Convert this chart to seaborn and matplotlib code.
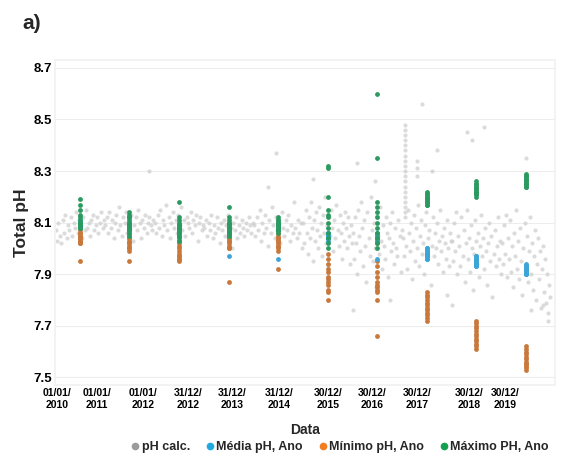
import numpy as np
import pandas as pd
import seaborn as sns
import matplotlib.pyplot as plt
from matplotlib.lines import Line2D

# daily pH calc. readings, per year
years = [2010, 2011, 2012, 2013, 2014, 2015, 2016, 2017, 2018, 2019]
grey_ph = [
    [8.07, 8.03, 8.10, 8.05, 8.02, 8.11, 8.06, 8.13, 8.04, 8.09, 8.07, 8.12, 8.05, 8.10, 8.08, 8.14, 8.06, 8.11,
     8.09, 8.04, 8.12, 8.07, 8.15, 8.08, 8.10, 8.05, 8.11, 8.13, 8.07, 8.09, 8.12, 8.06, 8.10, 8.14, 8.08, 8.11],
    [8.09, 8.12, 8.06, 8.14, 8.08, 8.11, 8.04, 8.10, 8.13, 8.07, 8.16, 8.09, 8.05, 8.12, 8.10, 8.14, 8.06, 8.11,
     8.08, 8.13, 8.03, 8.09, 8.12, 8.07, 8.15, 8.10, 8.04, 8.11, 8.08, 8.13, 8.06, 8.10, 8.12, 8.09, 8.07, 8.11],
    [8.10, 8.06, 8.13, 8.08, 8.15, 8.05, 8.11, 8.09, 8.17, 8.07, 8.12, 8.04, 8.10, 8.14, 8.08, 8.11, 8.06, 8.13,
     8.09, 8.16, 8.07, 8.11, 8.05, 8.12, 8.10, 8.08, 8.14, 8.06, 8.11, 8.09, 8.13, 8.03, 8.10, 8.12, 8.07, 8.09],
    [8.08, 8.11, 8.05, 8.10, 8.07, 8.13, 8.04, 8.09, 8.06, 8.12, 8.08, 8.02, 8.10, 8.07, 8.11, 8.05, 8.09, 8.13,
     8.06, 8.08, 8.00, 8.10, 8.07, 8.12, 8.04, 8.09, 8.06, 8.11, 8.08, 8.05, 8.10, 8.07, 8.12, 8.09, 8.06, 8.10],
    [8.09, 8.05, 8.12, 8.07, 8.15, 8.03, 8.10, 8.06, 8.13, 8.08, 8.01, 8.11, 8.06, 8.16, 8.09, 8.04, 8.12, 8.07,
     8.10, 8.02, 8.14, 8.08, 8.05, 8.11, 8.07, 8.13, 8.03, 8.09, 8.06, 8.18, 8.08, 8.04, 8.11, 8.06, 8.10, 8.00],
    [8.10, 8.02, 8.15, 8.06, 7.98, 8.12, 8.04, 8.18, 8.08, 7.95, 8.11, 8.03, 8.14, 8.07, 8.00, 8.16, 8.05, 8.10,
     7.97, 8.13, 8.06, 8.20, 8.02, 8.09, 7.93, 8.12, 8.05, 8.15, 8.08, 7.99, 8.11, 8.04, 8.17, 8.07, 8.01, 8.13,
     8.06, 7.96, 8.10, 8.03, 8.14, 8.08, 8.00, 8.12, 8.05, 7.94, 8.09, 8.02],
    [8.06, 7.96, 8.12, 8.02, 7.90, 8.15, 8.05, 7.99, 8.18, 8.08, 7.93, 8.11, 8.01, 7.87, 8.14, 8.04, 7.97, 8.20,
     8.07, 7.95, 8.10, 8.00, 7.85, 8.13, 8.05, 7.98, 8.16, 8.03, 7.92, 8.09, 8.01, 7.96, 8.12, 8.06, 7.89, 8.04,
     8.10, 7.99, 8.14, 8.02, 7.94, 8.08, 8.00, 7.97, 8.11, 8.05, 7.91, 8.07],
    [8.04, 7.97, 8.12, 8.01, 7.92, 8.15, 8.06, 7.99, 8.10, 7.88, 8.03, 8.13, 7.95, 8.08, 8.00, 8.17, 7.93, 8.05,
     8.11, 7.98, 8.02, 7.90, 8.09, 8.14, 7.96, 8.04, 8.07, 7.86, 8.01, 8.12, 7.97, 8.06, 8.00, 8.10, 7.94, 8.03,
     8.15, 7.99, 8.05, 7.91, 8.08, 8.02, 7.96, 8.11, 8.00, 7.93, 8.06, 8.03],
    [8.03, 7.95, 8.10, 7.99, 8.14, 7.90, 8.05, 8.01, 7.93, 8.12, 7.97, 8.07, 7.87, 8.02, 8.15, 7.96, 8.04, 7.91,
     8.09, 8.00, 7.84, 7.98, 8.11, 8.03, 7.94, 8.06, 7.89, 8.01, 8.13, 7.97, 8.04, 7.92, 8.08, 7.99, 7.86, 8.02,
     8.10, 7.95, 8.05, 7.81, 7.98, 8.07, 7.93, 8.01, 8.12, 7.96, 8.03, 7.90],
    [8.02, 7.94, 8.09, 7.98, 8.13, 7.89, 8.04, 7.96, 8.11, 7.91, 8.01, 7.85, 8.06, 7.97, 8.15, 7.92, 8.03, 7.88,
     8.08, 7.95, 7.82, 8.00, 8.10, 7.93, 8.05, 7.87, 7.99, 8.12, 7.90, 8.02, 7.84, 7.97, 8.07, 7.80, 7.94, 8.04,
     7.88, 7.99, 7.77, 7.92, 8.01, 7.83, 7.96, 7.79, 7.90, 7.75, 7.86, 7.81],
]
# scattered pH calc. readings outside the main band
extra_x = [2011.90, 2014.45, 2014.30, 2015.20, 2016.10, 2016.45, 2016.00, 2016.75, 2017.40, 2017.60,
           2017.70, 2018.30, 2018.40, 2018.65, 2019.50, 2019.95, 2019.85, 2019.60, 2018.00, 2017.90,
           2017.05, 2017.05, 2017.05, 2017.05, 2017.05, 2017.05, 2017.05, 2017.05, 2017.05, 2017.05,
           2017.05, 2017.05, 2017.05, 2017.05, 2017.05, 2017.05, 2017.05, 2017.05, 2017.30, 2017.30, 2017.30]
extra_y = [8.30, 8.37, 8.24, 8.27, 8.33, 8.26, 7.76, 7.80, 8.56, 8.30,
           8.38, 8.45, 8.42, 8.47, 8.35, 7.72, 7.78, 7.76, 7.78, 7.82,
           8.48, 8.46, 8.44, 8.42, 8.40, 8.38, 8.36, 8.34, 8.32, 8.30,
           8.28, 8.26, 8.24, 8.22, 8.20, 8.18, 8.16, 8.14, 8.34, 8.31, 8.28]

# yearly statistics (one value per month), plotted in one column per year
max_ph = [
    [8.19, 8.17, 8.15, 8.13, 8.12, 8.11, 8.10, 8.10, 8.09, 8.09, 8.08, 8.08],
    [8.14, 8.13, 8.12, 8.12, 8.11, 8.10, 8.09, 8.09, 8.08, 8.07, 8.06, 8.05],
    [8.18, 8.12, 8.11, 8.10, 8.09, 8.09, 8.08, 8.07, 8.06, 8.05, 8.04, 8.03],
    [8.16, 8.12, 8.11, 8.10, 8.10, 8.09, 8.08, 8.08, 8.07, 8.06, 8.06, 8.05],
    [8.12, 8.11, 8.11, 8.10, 8.10, 8.09, 8.09, 8.08, 8.08, 8.07, 8.07, 8.06],
    [8.32, 8.31, 8.20, 8.15, 8.13, 8.12, 8.10, 8.08, 8.06, 8.04, 8.02, 8.00],
    [8.60, 8.35, 8.18, 8.16, 8.14, 8.12, 8.10, 8.08, 8.06, 8.04, 8.02, 8.00],
    [8.22, 8.21, 8.21, 8.20, 8.20, 8.19, 8.19, 8.18, 8.18, 8.18, 8.17, 8.17],
    [8.26, 8.25, 8.25, 8.24, 8.24, 8.23, 8.23, 8.22, 8.22, 8.21, 8.21, 8.20],
    [8.29, 8.28, 8.28, 8.27, 8.27, 8.26, 8.26, 8.25, 8.25, 8.25, 8.24, 8.24],
]
min_ph = [
    [8.07, 8.06, 8.06, 8.05, 8.05, 8.04, 8.04, 8.03, 8.03, 8.02, 8.02, 7.95],
    [8.06, 8.05, 8.04, 8.04, 8.03, 8.02, 8.02, 8.01, 8.00, 8.00, 7.99, 7.95],
    [8.05, 8.03, 8.02, 8.01, 8.00, 7.99, 7.98, 7.97, 7.97, 7.96, 7.96, 7.95],
    [8.06, 8.05, 8.05, 8.04, 8.04, 8.03, 8.03, 8.02, 8.01, 8.00, 8.00, 7.87],
    [8.06, 8.05, 8.04, 8.04, 8.03, 8.03, 8.02, 8.01, 8.01, 8.00, 7.99, 7.92],
    [7.98, 7.96, 7.94, 7.92, 7.91, 7.89, 7.88, 7.87, 7.86, 7.84, 7.83, 7.80],
    [8.02, 7.95, 7.93, 7.91, 7.89, 7.87, 7.86, 7.85, 7.84, 7.83, 7.80, 7.66],
    [7.83, 7.82, 7.81, 7.80, 7.79, 7.78, 7.77, 7.76, 7.75, 7.74, 7.73, 7.72],
    [7.72, 7.71, 7.70, 7.69, 7.68, 7.67, 7.66, 7.65, 7.64, 7.63, 7.62, 7.61],
    [7.62, 7.61, 7.60, 7.59, 7.58, 7.57, 7.56, 7.55, 7.55, 7.54, 7.54, 7.53],
]
mean_ph = [
    [8.10, 8.09, 8.09, 8.10, 8.08, 8.09, 8.10, 8.11, 8.09, 8.08, 8.10, 8.09],
    [8.09, 8.08, 8.10, 8.09, 8.08, 8.07, 8.09, 8.10, 8.08, 8.09, 8.07, 8.08],
    [8.08, 8.07, 8.09, 8.08, 8.07, 8.06, 8.08, 8.09, 8.07, 8.08, 8.06, 8.07],
    [8.08, 8.07, 8.09, 8.08, 8.07, 8.09, 8.08, 8.07, 8.08, 8.09, 8.07, 7.97],
    [8.08, 8.09, 8.08, 8.07, 8.09, 8.08, 8.10, 8.08, 8.07, 8.09, 8.08, 7.96],
    [8.05, 8.06, 8.04, 8.05, 8.06, 8.04, 8.05, 8.03, 8.06, 8.05, 8.04, 8.05],
    [8.05, 8.04, 8.06, 8.03, 8.05, 8.04, 8.06, 8.05, 8.03, 8.04, 8.05, 7.96],
    [8.00, 8.00, 7.99, 7.99, 7.98, 7.98, 7.98, 7.97, 7.97, 7.97, 7.96, 7.96],
    [7.97, 7.97, 7.96, 7.96, 7.95, 7.95, 7.95, 7.94, 7.94, 7.94, 7.93, 7.93],
    [7.94, 7.93, 7.93, 7.92, 7.92, 7.92, 7.91, 7.91, 7.91, 7.90, 7.90, 7.90],
]

tick_pos = [2010.04, 2010.84, 2011.77, 2012.68, 2013.58, 2014.53, 2015.50, 2016.39, 2017.31, 2018.36, 2019.07]
tick_labels = ["01/01/\n2010", "01/01/\n2011", "01/01/\n2012", "31/12/\n2012", "31/12/\n2013", "31/12/\n2014",
               "30/12/\n2015", "30/12/\n2016", "30/12/\n2017", "30/12/\n2018", "30/12/\n2019"]

# build long tables
gx, gy = [], []
for yr, vals in zip(years, grey_ph):
    n = len(vals)
    gx += [yr + (i + 0.5) / n for i in range(n)]
    gy += vals
grey_df = pd.DataFrame({"x": gx + extra_x, "ph": gy + extra_y})


def column_df(stats):
    xs, ys = [], []
    for yr, vals in zip(years, stats):
        xs += [yr + 0.5] * len(vals)
        ys += vals
    return pd.DataFrame({"x": xs, "ph": ys})


sns.set_theme(style="white")
plt.rcParams["font.family"] = ["Liberation Sans", "DejaVu Sans"]
plt.rcParams["font.weight"] = "bold"

fig = plt.figure(figsize=(5.61, 4.59), dpi=100)
ax = fig.add_axes([0.098, 0.161, 0.891, 0.708])

c_grey, c_orange, c_blue, c_green = "#cfcfcf", "#c9783c", "#3aa5d6", "#2b9a60"

sns.scatterplot(data=grey_df, x="x", y="ph", color=c_grey, s=9, linewidth=0, alpha=0.75, ax=ax)
sns.scatterplot(data=column_df(min_ph), x="x", y="ph", color=c_orange, s=12, linewidth=0, ax=ax)
sns.scatterplot(data=column_df(mean_ph), x="x", y="ph", color=c_blue, s=12, linewidth=0, ax=ax)
sns.scatterplot(data=column_df(max_ph), x="x", y="ph", color=c_green, s=12, linewidth=0, ax=ax)

ax.set_xlim(2010.0, 2020.08)
ax.set_ylim(7.47, 8.73)
ax.set_yticks([7.5, 7.7, 7.9, 8.1, 8.3, 8.5, 8.7])
ax.set_yticklabels(["7.5", "7.7", "7.9", "8.1", "8.3", "8.5", "8.7"], fontsize=9.5, fontweight="bold")
ax.set_xticks(tick_pos)
ax.set_xticklabels(tick_labels, fontsize=7.5, fontweight="bold", linespacing=1.3)
ax.tick_params(axis="both", length=0, pad=2, colors="black")
ax.grid(axis="y", color="#ededed", linewidth=0.8)
for sp in ax.spines.values():
    sp.set_color("#f2f2f2")

ax.set_xlabel("Data", fontsize=10, fontweight="bold", labelpad=9)
ax.set_ylabel("Total pH", fontsize=12.5, fontweight="bold", labelpad=3)
fig.text(0.04, 0.949, "a)", fontsize=15, fontweight="bold", va="center")

handles = [
    Line2D([], [], marker="o", ls="", color="#9b9b9b", markersize=4.5, label="pH calc."),
    Line2D([], [], marker="o", ls="", color="#1fa9e1", markersize=4.5, label="Média pH, Ano"),
    Line2D([], [], marker="o", ls="", color="#ef7d22", markersize=4.5, label="Mínimo pH, Ano"),
    Line2D([], [], marker="o", ls="", color="#13a04f", markersize=4.5, label="Máximo PH, Ano"),
]
fig.legend(handles=handles, loc="center", bbox_to_anchor=(0.605, 0.026), ncol=4, frameon=False,
           prop={"size": 9, "weight": "bold"}, handletextpad=0.1, columnspacing=1.2, handlelength=0.8)

fig.savefig("out.png", dpi=100)
